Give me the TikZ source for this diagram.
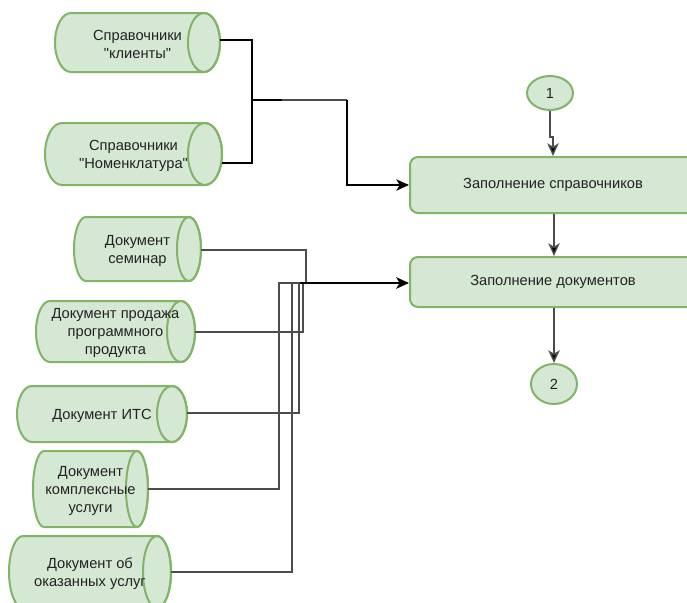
\documentclass[tikz,border=0pt]{standalone}
\usepackage{fontspec}
\setmainfont{Liberation Sans}[Ligatures=TeXOff]
\usetikzlibrary{shapes.geometric,arrows.meta}

\definecolor{leaf}{HTML}{D5E8D4}
\definecolor{leafedge}{HTML}{82B366}
\definecolor{ink}{HTML}{222222}

\tikzset{
  drumline/.style={fill=leaf, draw=leafedge, line width=1.5pt},
  drumtext/.style={align=center, text=ink, inner sep=0pt, font=\fontsize{11}{13.5}\selectfont},
  stepbox/.style={rectangle, rounded corners=6pt, fill=leaf, draw=leafedge, line width=1.5pt,
    minimum width=214.5pt, text=ink, font=\fontsize{11}{13.5}\selectfont},
  term/.style={ellipse, fill=leaf, draw=leafedge, line width=1.5pt, inner sep=0pt,
    text=ink, font=\fontsize{11}{13.5}\selectfont},
  wire/.style={draw=black!70, line width=1.1pt},
  thickwire/.style={draw=black, line width=1.8pt},
  tip/.style={-{Stealth[length=9.5pt,width=8.5pt,inset=2.5pt,fill=black]}},
  flow/.style={draw=black!70, line width=1.1pt, tip},
  inflow/.style={draw=black, line width=1pt, tip},
}

% Horizontal data drum: name, x1, y1, x2, y2, cap x-radius, text
\newcommand\drum[7]{%
  \pgfmathsetmacro\drumry{(#5-#3)/2}%
  \pgfmathsetmacro\drumym{(#3+#5)/2}%
  \pgfmathsetmacro\drumxm{(#2+#4)/2}%
  \pgfmathsetmacro\drumw{(#4-#2)*0.75}%
  \pgfmathsetmacro\drumh{(#5-#3)*0.75}%
  \filldraw[drumline] (#2+#6,-#3) -- (#4-#6,-#3)
    arc[start angle=90,end angle=-90,x radius=#6,y radius=\drumry]
    -- (#2+#6,-#5)
    arc[start angle=270,end angle=90,x radius=#6,y radius=\drumry] -- cycle;
  \draw[drumline, fill=none] (#4-#6,-\drumym) ellipse[x radius=#6, y radius=\drumry];
  \node[drumtext, minimum width=\drumw pt, minimum height=\drumh pt] (#1) at (\drumxm,-\drumym-1.5) {#7};
}

\begin{document}
\begin{tikzpicture}[x=0.75pt, y=0.75pt]
  \clip (0,0) rectangle (687,-603);
  \fill[white] (0,0) rectangle (687,-603);

  % reference books
  \drum{clients}{55}{13}{220}{72}{16}{Справочники\\"клиенты"}
  \drum{nomen}{45}{123}{222}{185}{17}{Справочники\\"Номенклатура"}

  % documents
  \drum{seminar}{74}{217}{201}{281}{12}{Документ\\семинар}
  \drum{sale}{36}{301}{195}{362}{14}{Документ продажа\\программного\\продукта}
  \drum{its}{17}{386}{187}{442}{15}{Документ ИТС}
  \drum{complex}{33}{451}{148}{527}{11}{Документ\\комплексные\\услуги}
  \drum{served}{9}{536}{171}{608}{14}{Документ об\\оказанных услуг}

  % process column
  \node[term, minimum width=34.5pt, minimum height=25.5pt] (start) at (550,-93) {1};
  \node[stepbox, minimum height=42pt] (fillref) at (553,-185) {Заполнение справочников};
  \node[stepbox, minimum height=37.5pt] (filldoc) at (553,-282) {Заполнение документов};
  \node[term, minimum width=34.5pt, minimum height=30pt] (finish) at (554,-384) {2};

  \draw[flow] (start.south) -- ++(0,-26) -| (fillref.north);
  \draw[flow] (fillref.south -| 554,0) -- (filldoc.north -| 554,0);
  \draw[flow] (filldoc.south -| 554,0) -- (finish.north);

  % reference books feed the first step
  \coordinate (refjoin) at (252,-100);
  \coordinate (refbend) at (347,-100);
  \draw[thickwire] (clients.east |- 0,-40) -| (refjoin) |- (nomen.east |- 0,-163);
  \draw[thickwire] (refjoin) -- (282,-100);
  \draw[wire] (282,-100) -- (refbend);
  \draw[inflow] (refbend) |- (fillref.west);

  % documents feed the second step
  \coordinate (docjoin) at (300,-283);
  \coordinate (r1) at (306,-283);
  \coordinate (r2) at (303,-283);
  \coordinate (r3) at (299,-283);
  \coordinate (r4) at (279,-283);
  \coordinate (r5) at (292,-283);
  \draw[wire] (seminar.east |- 0,-250) -| (r1);
  \draw[wire] (sale.east |- 0,-332) -| (r2) -- (docjoin);
  \draw[wire] (its.east |- 0,-413) -| (r3) -- (docjoin);
  \draw[wire] (complex.east |- 0,-489) -| (r4) -- (docjoin);
  \draw[wire] (served.east |- 0,-572) -| (r5) -- (docjoin);
  \draw[thickwire, tip] (docjoin) -- (docjoin -| filldoc.west);
\end{tikzpicture}
\end{document}
